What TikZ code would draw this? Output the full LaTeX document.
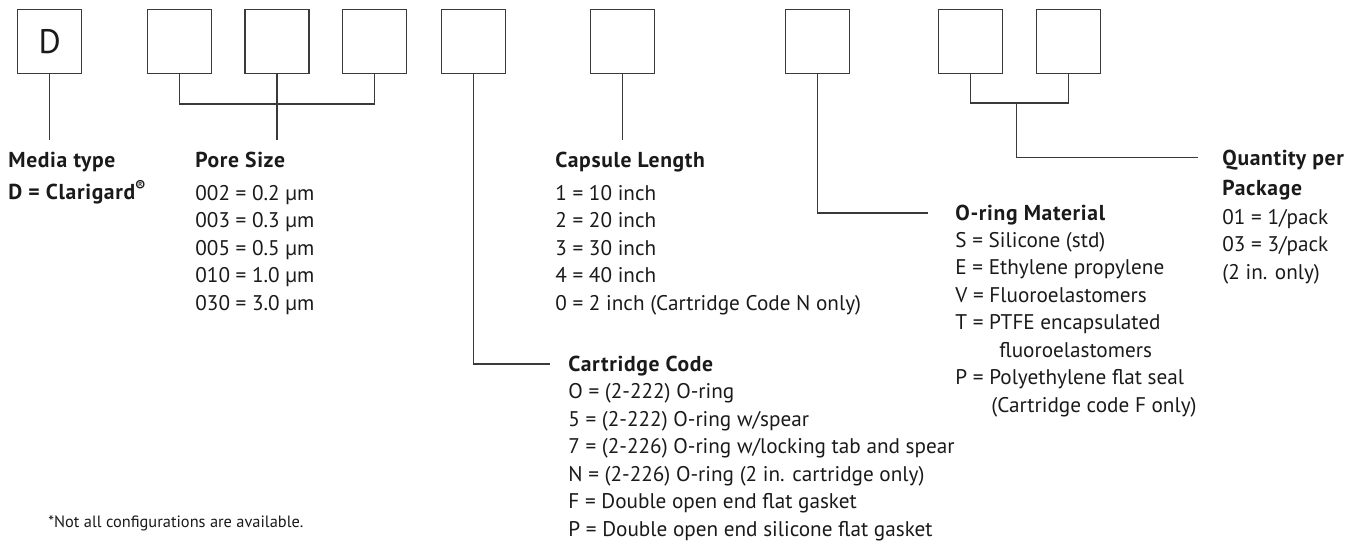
\documentclass[tikz,border=0pt]{standalone}
\usepackage{fontspec}
\setmainfont{PT Sans}
\usetikzlibrary{positioning}
\definecolor{rulegray}{HTML}{3A3A3A}
\definecolor{inkblack}{HTML}{1A1A1A}

\begin{document}
\begin{tikzpicture}[
    x=0.5pt, y=-0.5pt,
    every node/.style={text=inkblack},
    cell/.style={draw=rulegray, line width=0.6pt, minimum width=32pt,
                 minimum height=32pt, inner sep=0pt},
    head/.style={font=\fontsize{10.8}{15}\selectfont\bfseries\addfontfeature{LetterSpace=3},
                 inner sep=0pt, anchor=base west},
    codes/.style={font=\fontsize{10.6}{13.75}\selectfont, align=left,
                  inner sep=0pt, anchor=base west},
    leader/.style={draw=rulegray, line width=0.6pt},
  ]
  \useasboundingbox (0,0) rectangle (1363,552);

  % code boxes
  \node[cell, font=\fontsize{17}{17}\selectfont] (bD) at (49.7,41.7) {D};
  \node[cell] (bP1) at (179.3,41.7) {};
  \node[cell, right=16.2pt of bP1] (bP2) {};
  \node[cell, right=16.2pt of bP2] (bP3) {};
  \node[cell] (bCart) at (473.5,41.7) {};
  \node[cell] (bLen) at (622.5,41.7) {};
  \node[cell] (bSeal) at (817.7,41.7) {};
  \node[cell] (bQ1) at (970.2,41.7) {};
  \node[cell, right=16.5pt of bQ1] (bQ2) {};

  % headings
  \node[head] (media) at (8,167) {Media type};
  \node[head, below=16pt of media.base west, anchor=base west] (mediaD)
    {D = Clarigard\textsuperscript{®}};
  \node[head] (pore) at (195,167) {Pore Size};
  \node[head] (len) at (555,167) {Capsule Length};
  \node[head] (cart) at (568,371) {Cartridge Code};
  \node[head] (seal) at (955,220) {O-ring Material};
  \node[head] (qty) at (1222,165) {Quantity per};
  \node[head, below=15pt of qty.base west, anchor=base west] (pack) {Package};

  % code lists (a list node sits on its last line)
  \node[codes, below=71.5pt of pore.base west, anchor=base west] (poreList)
    {002 = 0.2 µm\\003 = 0.3 µm\\005 = 0.5 µm\\010 = 1.0 µm\\030 = 3.0 µm};
  \node[codes, below=71.5pt of len.base west, anchor=base west] (lenList)
    {1 = 10 inch\\2 = 20 inch\\3 = 30 inch\\4 = 40 inch\\
     0 = 2 inch (Cartridge Code N only)};
  \node[codes, below=82.5pt of cart.base west, anchor=base west] (cartList)
    {O = (2-222) O-ring\\5 = (2-222) O-ring w/spear\\
     7 = (2-226) O-ring w/locking tab and spear\\
     N = (2-226) O-ring (2 in. cartridge only)\\
     F = Double open end flat gasket\\
     P = Double open end silicone flat gasket};
  \node[codes, below=96pt of seal.base west, anchor=base west] (sealList)
    {S = Silicone (std)\\E = Ethylene propylene\\V = Fluoroelastomers\\
     T = PTFE encapsulated\\\hspace*{22pt}fluoroelastomers\\
     P = Polyethylene flat seal\\\hspace*{18pt}(Cartridge code F only)};
  \node[codes, below=42pt of pack.base west, anchor=base west] (qtyList)
    {01 = 1/pack\\03 = 3/pack\\(2 in. only)};

  \node[font=\fontsize{8.2}{10}\selectfont, inner sep=0pt, anchor=base west]
    (note) at (48,527) {*Not all configurations are available.};

  % leader lines
  \coordinate (mediaEnd) at (bD.south |- 0,140);
  \coordinate (poreJoin) at (bP2.south |- 0,104);
  \coordinate (poreEnd) at (bP2.south |- 0,140);
  \coordinate (cartEnd) at (550,364);
  \coordinate (lenEnd) at (bLen.south |- 0,140);
  \coordinate (sealEnd) at (928,213);
  \coordinate (qtyJoin) at (1016.7,103);
  \coordinate (qtyEnd) at (1198,157.5);

  \draw[leader] (bD.south) -- (mediaEnd);
  \draw[leader] (bP1.south) |- (poreJoin) -| (bP3.south);
  \draw[leader] (bP2.south) -- (poreEnd);
  \draw[leader] (bCart.south) |- (cartEnd);
  \draw[leader] (bLen.south) -- (lenEnd);
  \draw[leader] (bSeal.south) |- (sealEnd);
  \draw[leader] (bQ1.south) |- (qtyJoin) -| (bQ2.south);
  \draw[leader] (qtyJoin) |- (qtyEnd);
\end{tikzpicture}
\end{document}
